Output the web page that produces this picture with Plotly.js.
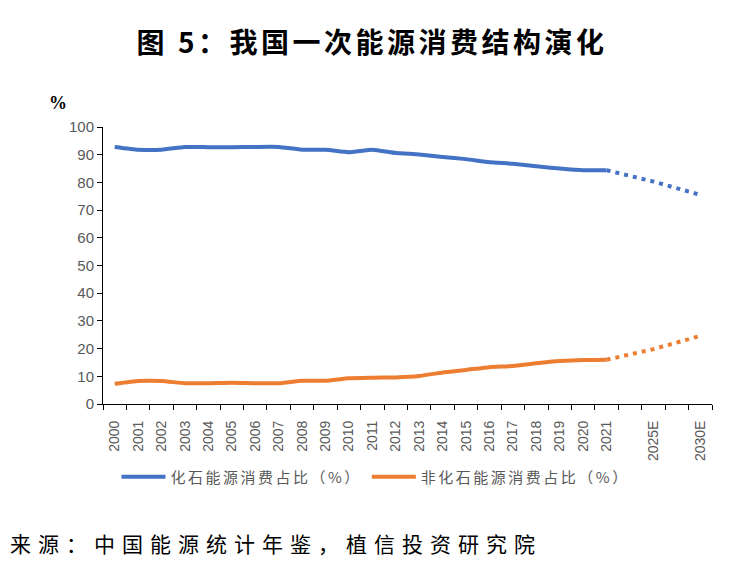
<!DOCTYPE html>
<html>
<head>
<meta charset="utf-8">
<script src="https://cdn.plot.ly/plotly-3.0.1.min.js"></script>
<style>
  html, body { margin: 0; padding: 0; background: #fff; }
  .gtitle { letter-spacing: 3.5px; }
  .legendtext { letter-spacing: 2.5px; }
  .annotation[data-index="1"] text { letter-spacing: 7px; }
</style>
</head>
<body>
<div id="chart" style="width:744px;height:568px;"></div>
<script>
// Category labels (blank slots between 2021, 2025E and 2030E)
const xLabels = ['2000','2001','2002','2003','2004','2005','2006','2007','2008','2009','2010',
                 '2011','2012','2013','2014','2015','2016','2017','2018','2019','2020','2021',
                 '','2025E','','2030E'];
// Historical values 2000-2021
const fossilHist = [92.8,91.8,91.8,92.8,92.7,92.7,92.8,92.8,91.8,91.8,90.9,
                    91.8,90.6,90.1,89.2,88.4,87.3,86.7,85.8,85.0,84.4,84.4];
const nonFossilHist = [7.3,8.3,8.3,7.5,7.5,7.7,7.5,7.5,8.4,8.4,9.3,
                       9.5,9.6,10.1,11.4,12.3,13.3,13.7,14.7,15.5,15.9,16.0];
// Projection: 2021 -> 2025E -> 2030E
const projLabels = ['2021','2025E','2030E'];
const fossilProj = [84.4,80.3,75.5];
const nonFossilProj = [16.0,19.8,24.6];
const seriesNames = ['化石能源消费占比（%）','非化石能源消费占比（%）'];
const yTicks = [0,10,20,30,40,50,60,70,80,90,100];

const idx = l => xLabels.indexOf(l);
const histX = fossilHist.map((_, i) => i);
const projX = projLabels.map(idx);

const blue = '#4472C4', orange = '#ED7D31';

const traces = [
  {x: histX, y: fossilHist, type: 'scatter', mode: 'lines', name: seriesNames[0],
   line: {color: blue, width: 4, shape: 'spline', smoothing: 0.4}},
  {x: histX, y: nonFossilHist, type: 'scatter', mode: 'lines', name: seriesNames[1],
   line: {color: orange, width: 4, shape: 'spline', smoothing: 0.4}},
  {x: projX, y: fossilProj, type: 'scatter', mode: 'lines', showlegend: false,
   line: {color: blue, width: 4, dash: '4px,5px'}},
  {x: projX, y: nonFossilProj, type: 'scatter', mode: 'lines', showlegend: false,
   line: {color: orange, width: 4, dash: '4px,5px'}}
];

const L = 103, R = 712, T = 127, B = 404;
const W = R - L, H = B - T;

const layout = {
  width: 744, height: 568,
  margin: {l: L, r: 744 - R, t: T, b: 568 - B},
  paper_bgcolor: '#fff', plot_bgcolor: '#fff',
  title: {text: '<b>图 5：我国一次能源消费结构演化</b>', x: 0.5, xanchor: 'center',
          y: 1 - 43/568, yref: 'container', yanchor: 'middle',
          font: {family: 'Noto Sans CJK SC', size: 28, color: '#000'}},
  xaxis: {
    range: [-0.5, xLabels.length - 0.5],
    tickmode: 'array', tickvals: xLabels.map((_, i) => i), ticktext: xLabels,
    ticks: '', tickangle: -90, ticklabelstandoff: 10,
    tickfont: {family: 'Liberation Sans, Arial', size: 14, color: '#595959'},
    showline: true, linecolor: '#000', linewidth: 1, showgrid: false, zeroline: false,
    minor: {tick0: -0.5, dtick: 1, ticks: 'outside', ticklen: 5, tickcolor: '#000', tickwidth: 1, showgrid: false}
  },
  yaxis: {
    range: [0, 100], tickmode: 'array', tickvals: yTicks,
    ticks: 'outside', ticklen: 5, tickcolor: '#000',
    tickfont: {family: 'Liberation Sans, Arial', size: 15, color: '#595959'},
    showline: true, linecolor: '#000', linewidth: 1, showgrid: false, zeroline: false
  },
  legend: {orientation: 'h', x: (376 - L) / W, xanchor: 'center', y: (B - 477) / H, yanchor: 'middle',
           font: {family: 'Noto Sans CJK SC', size: 15, color: '#595959'},
           itemwidth: 44},
  annotations: [
    {text: '<b>%</b>', xref: 'paper', yref: 'paper', x: (58 - L) / W, y: (B - 103) / H,
     xanchor: 'center', yanchor: 'middle', showarrow: false,
     font: {family: 'Liberation Serif', size: 18, color: '#000'}},
    {text: '来源：中国能源统计年鉴，植信投资研究院', xref: 'paper', yref: 'paper', align: 'left',
     x: (8 - L) / W, y: (B - 543) / H, xanchor: 'left', yanchor: 'middle', showarrow: false,
     font: {family: 'Noto Sans CJK SC', size: 21, color: '#000'}}
  ]
};

Plotly.newPlot('chart', traces, layout, {displayModeBar: false, responsive: false});
</script>
</body>
</html>
